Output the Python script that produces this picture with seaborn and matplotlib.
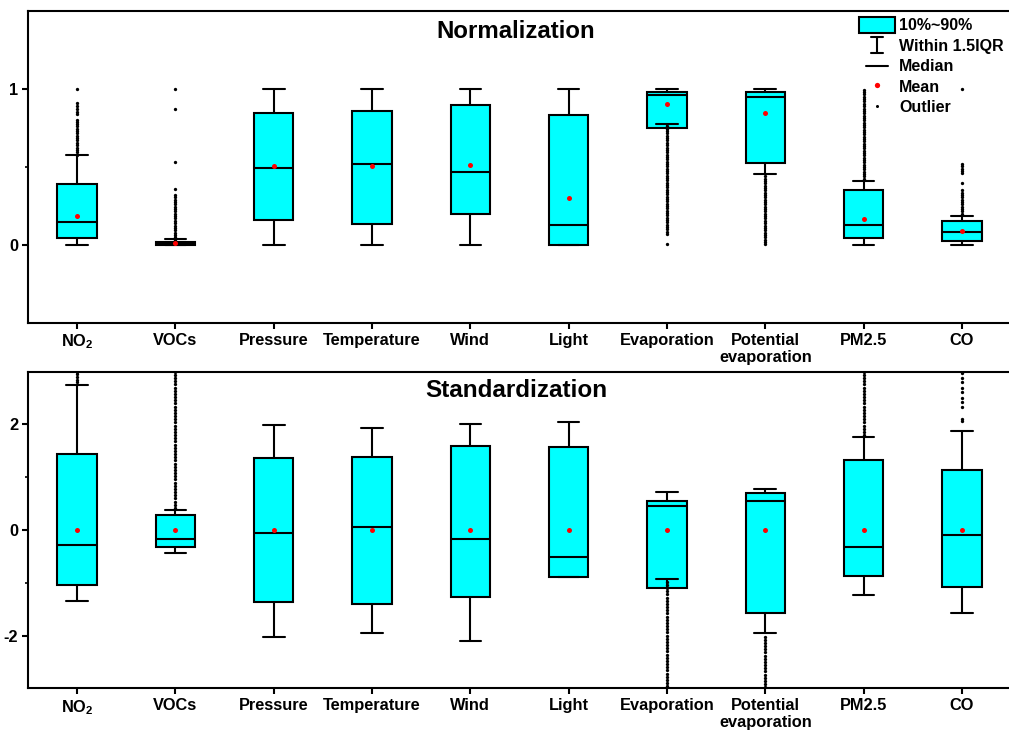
import matplotlib
matplotlib.use("Agg")
import matplotlib.pyplot as plt
from matplotlib.patches import Patch
from matplotlib.lines import Line2D
from matplotlib.legend_handler import HandlerBase
from matplotlib.ticker import FixedLocator
import pandas as pd
import seaborn as sns

categories = ["NO$_2$", "VOCs", "Pressure", "Temperature", "Wind", "Light",
              "Evaporation", "Potential\nevaporation", "PM2.5", "CO"]

# Normalization panel (box = 10%~90%, whiskers = within 1.5IQR)
norm_p10 = [0.043, 0.0, 0.162, 0.137, 0.20, 0.0, 0.752, 0.528, 0.047, 0.026]
norm_p90 = [0.391, 0.02, 0.846, 0.859, 0.90, 0.833, 0.979, 0.981, 0.350, 0.154]
norm_med = [0.15, 0.008, 0.494, 0.517, 0.468, 0.126, 0.964, 0.951, 0.126, 0.083]
norm_mean = [0.188, 0.01, 0.504, 0.504, 0.511, 0.301, 0.902, 0.844, 0.169, 0.088]
norm_wlo = [0.0, 0.0, 0.0, 0.0, 0.0, 0.0, 0.776, 0.455, 0.0, 0.0]
norm_whi = [0.575, 0.04, 1.0, 1.0, 1.0, 1.0, 1.0, 1.0, 0.41, 0.188]
norm_out = [
    [0.58, 0.595, 0.61, 0.625, 0.64, 0.655, 0.67, 0.685, 0.70, 0.715, 0.73,
     0.745, 0.76, 0.775, 0.79, 0.80, 0.84, 0.855, 0.87, 0.89, 0.91, 1.0],
    [0.035, 0.05, 0.065, 0.08, 0.095, 0.11, 0.125, 0.14, 0.155, 0.17, 0.185,
     0.20, 0.215, 0.23, 0.245, 0.26, 0.275, 0.29, 0.305, 0.32, 0.36, 0.531,
     0.873, 1.0],
    [], [], [], [],
    [0.76, 0.745, 0.73, 0.715, 0.70, 0.685, 0.67, 0.655, 0.64, 0.625, 0.61,
     0.595, 0.58, 0.565, 0.55, 0.535, 0.52, 0.505, 0.49, 0.475, 0.46, 0.445,
     0.43, 0.415, 0.40, 0.385, 0.37, 0.355, 0.34, 0.325, 0.31, 0.295, 0.28,
     0.265, 0.25, 0.235, 0.22, 0.205, 0.19, 0.175, 0.16, 0.145, 0.13, 0.115,
     0.10, 0.085, 0.07, 0.005],
    [0.44, 0.425, 0.41, 0.395, 0.38, 0.365, 0.35, 0.335, 0.32, 0.305, 0.29,
     0.275, 0.26, 0.245, 0.23, 0.215, 0.20, 0.185, 0.17, 0.155, 0.14, 0.125,
     0.11, 0.095, 0.08, 0.065, 0.05, 0.035, 0.02, 0.005],
    [0.425, 0.44, 0.455, 0.47, 0.485, 0.50, 0.515, 0.53, 0.545, 0.56, 0.575,
     0.59, 0.605, 0.62, 0.635, 0.65, 0.665, 0.68, 0.695, 0.71, 0.725, 0.74,
     0.755, 0.77, 0.785, 0.80, 0.815, 0.83, 0.845, 0.86, 0.875, 0.89, 0.905,
     0.92, 0.935, 0.95, 0.965, 0.98, 0.995],
    [0.20, 0.215, 0.23, 0.245, 0.26, 0.275, 0.29, 0.305, 0.32, 0.335, 0.355,
     0.40, 0.46, 0.475, 0.49, 0.505, 0.52, 1.0],
]

# Standardization panel
std_p10 = [-1.04, -0.32, -1.37, -1.41, -1.27, -0.886, -1.10, -1.58, -0.88, -1.08]
std_p90 = [1.44, 0.28, 1.37, 1.39, 1.60, 1.57, 0.557, 0.70, 1.32, 1.13]
std_med = [-0.285, -0.18, -0.05, 0.057, -0.165, -0.51, 0.456, 0.557, -0.316, -0.10]
std_mean = [0.0, 0.0, 0.0, 0.0, 0.0, 0.0, 0.0, 0.0, 0.0, 0.0]
std_wlo = [-1.35, -0.44, -2.03, -1.96, -2.10, -0.886, -0.93, -1.96, -1.23, -1.58]
std_whi = [2.75, 0.38, 1.99, 1.93, 2.01, 2.05, 0.715, 0.785, 1.76, 1.87]
std_out = [
    [2.8, 2.85, 2.9, 2.95, 3.0],
    [0.42, 0.48, 0.54, 0.60, 0.66, 0.72, 0.78, 0.84, 0.90, 0.96, 1.02, 1.08,
     1.14, 1.20, 1.26, 1.32, 1.38, 1.44, 1.50, 1.56, 1.62, 1.68, 1.74, 1.80,
     1.86, 1.92, 1.98, 2.04, 2.10, 2.16, 2.22, 2.28, 2.34, 2.40, 2.46, 2.52,
     2.58, 2.64, 2.70, 2.76, 2.82, 2.88, 2.94, 3.0],
    [], [], [], [],
    [-0.98, -1.04, -1.10, -1.16, -1.22, -1.28, -1.34, -1.40, -1.46, -1.52,
     -1.58, -1.64, -1.70, -1.76, -1.82, -1.88, -1.94, -2.00, -2.06, -2.12,
     -2.18, -2.24, -2.30, -2.36, -2.42, -2.48, -2.54, -2.60, -2.66, -2.72,
     -2.78, -2.84, -2.90, -2.96],
    [-2.02, -2.08, -2.14, -2.20, -2.26, -2.32, -2.38, -2.44, -2.50, -2.56,
     -2.62, -2.68, -2.74, -2.80, -2.86, -2.92, -2.98],
    [1.80, 1.86, 1.92, 1.98, 2.04, 2.10, 2.16, 2.22, 2.28, 2.34, 2.40, 2.46,
     2.52, 2.58, 2.64, 2.70, 2.76, 2.82, 2.88, 2.94, 3.0],
    [2.07, 2.11, 2.34, 2.42, 2.51, 2.61, 2.70, 2.80, 2.89, 2.97],
]

box_color = "#00FFFF"

sns.set_style("ticks")
plt.rcParams["font.family"] = ["Liberation Sans", "DejaVu Sans"]
plt.rcParams["font.weight"] = "bold"
plt.rcParams["text.color"] = "black"
plt.rcParams["xtick.color"] = "black"
plt.rcParams["ytick.color"] = "black"
plt.rcParams["axes.labelcolor"] = "black"
plt.rcParams["mathtext.fontset"] = "custom"
plt.rcParams["mathtext.rm"] = "Liberation Sans:bold"
plt.rcParams["mathtext.bf"] = "Liberation Sans:bold"
plt.rcParams["mathtext.it"] = "Liberation Sans:bold:italic"

tick_size = 11.8


class WhiskerHandler(HandlerBase):
    def create_artists(self, legend, orig_handle, xdescent, ydescent,
                       width, height, fontsize, trans):
        cx = width / 2 - xdescent
        y0 = -ydescent
        y1 = height - ydescent
        cw = width * 0.16
        arts = [
            Line2D([cx, cx], [y0, y1], color="black", lw=1.5),
            Line2D([cx - cw, cx + cw], [y0, y0], color="black", lw=1.5),
            Line2D([cx - cw, cx + cw], [y1, y1], color="black", lw=1.5),
        ]
        for a in arts:
            a.set_transform(trans)
        return arts


class MedianHandler(HandlerBase):
    def create_artists(self, legend, orig_handle, xdescent, ydescent,
                       width, height, fontsize, trans):
        cy = height / 2 - ydescent
        x0 = -xdescent + width * 0.2
        x1 = -xdescent + width * 0.8
        ln = Line2D([x0, x1], [cy, cy], color="black", lw=1.5)
        ln.set_transform(trans)
        return [ln]


def draw_panel(ax, p10, p90, med, mean, wlo, whi, out, ylim, major, minor,
               title, title_y, title_size):
    stats = []
    for i in range(len(categories)):
        stats.append(dict(med=med[i], q1=p10[i], q3=p90[i],
                          whislo=wlo[i], whishi=whi[i], fliers=[]))
    ax.bxp(stats, positions=range(len(categories)), widths=0.4,
           capwidths=0.22, patch_artist=True, showfliers=False,
           manage_ticks=False,
           boxprops=dict(facecolor=box_color, edgecolor="black", linewidth=1.5),
           whiskerprops=dict(color="black", linewidth=1.5),
           capprops=dict(color="black", linewidth=1.5),
           medianprops=dict(color="black", linewidth=1.5))

    out_df = pd.DataFrame({
        "var": [c for c, vals in zip(categories, out) for _ in vals],
        "value": [v for vals in out for v in vals],
    })
    mean_df = pd.DataFrame({"var": categories, "value": mean})
    sns.stripplot(data=out_df, x="var", y="value", order=categories,
                  jitter=False, size=2.4, color="black", linewidth=0,
                  ax=ax, zorder=5)
    sns.stripplot(data=mean_df, x="var", y="value", order=categories,
                  jitter=False, size=3.6, color="red", linewidth=0,
                  ax=ax, zorder=6)

    ax.set_xlim(-0.5, len(categories) - 0.5)
    ax.set_ylim(*ylim)
    ax.set_xticks(range(len(categories)))
    ax.set_xticklabels(categories, fontsize=tick_size, fontweight="bold")
    ax.yaxis.set_major_locator(FixedLocator(major))
    ax.yaxis.set_minor_locator(FixedLocator(minor))
    ax.set_yticklabels([f"{t:g}" for t in major], fontsize=tick_size,
                       fontweight="bold")
    ax.tick_params(axis="both", which="major", direction="out", length=4,
                   width=1.5, pad=3, color="black")
    ax.tick_params(axis="y", which="minor", direction="out", length=2,
                   width=1.2, color="black")
    ax.set_xlabel("")
    ax.set_ylabel("")
    for s in ax.spines.values():
        s.set_visible(True)
        s.set_linewidth(1.5)
        s.set_color("black")
    ax.text(0.4964, title_y, title, transform=ax.transAxes, ha="center",
            va="baseline", fontsize=title_size, fontweight="bold")


fig = plt.figure(figsize=(10.09, 7.32), dpi=100)
W, H = 1009.0, 732.0
ax1 = fig.add_axes([28 / W, 1 - 323 / H, (1011 - 28) / W, (323 - 11) / H])
ax2 = fig.add_axes([28 / W, 1 - 688.3 / H, (1011 - 28) / W, (688.3 - 371.7) / H])

draw_panel(ax1, norm_p10, norm_p90, norm_med, norm_mean, norm_wlo, norm_whi,
           norm_out, (-0.5, 1.5), [0, 1], [0.5], "Normalization", 0.9125, 17.3)
draw_panel(ax2, std_p10, std_p90, std_med, std_mean, std_wlo, std_whi,
           std_out, (-3, 3), [-2, 0, 2], [-1, 1], "Standardization", 0.921, 17.5)

whisker_key = object()
median_key = object()
handles = [
    Patch(facecolor=box_color, edgecolor="black", linewidth=1.5),
    whisker_key,
    median_key,
    Line2D([], [], marker="o", color="red", ls="", markersize=3.8, markeredgewidth=0),
    Line2D([], [], marker="o", color="black", ls="", markersize=2.2, markeredgewidth=0),
]
labels = ["10%~90%", "Within 1.5IQR", "Median", "Mean", "Outlier"]
fig.legend(handles, labels, loc="upper left",
           bbox_to_anchor=(859 / W, 1 - 17 / H), frameon=False,
           prop=dict(size=11.5, weight="bold"), handlelength=2.25,
           handleheight=1.15, handletextpad=0.25, labelspacing=0.26,
           borderpad=0.0, borderaxespad=0.0,
           handler_map={whisker_key: WhiskerHandler(),
                        median_key: MedianHandler()})

fig.savefig("out.png", dpi=100)
